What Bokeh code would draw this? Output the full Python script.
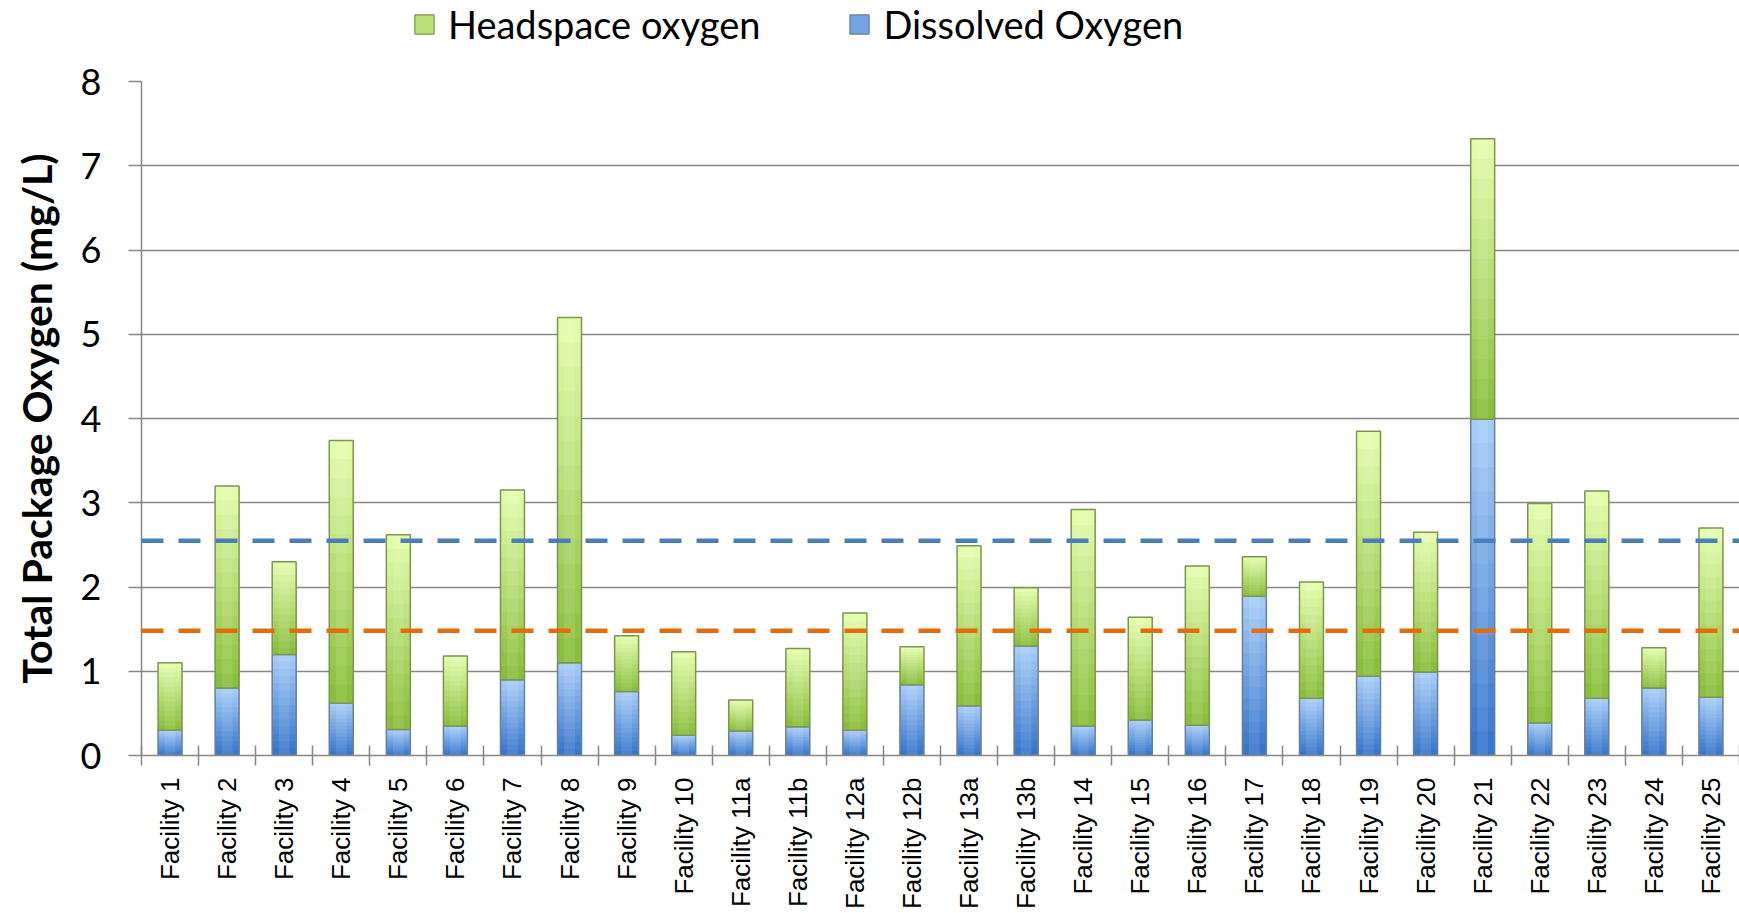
import numpy as np
from bokeh.plotting import figure
from bokeh.layouts import column
from bokeh.models import Range1d, FixedTicker, Span, Legend, LegendItem
from bokeh.embed import file_html
from bokeh.resources import INLINE

# ---------------- data ----------------
facilities = ["Facility 1", "Facility 2", "Facility 3", "Facility 4", "Facility 5",
              "Facility 6", "Facility 7", "Facility 8", "Facility 9", "Facility 10",
              "Facility 11a", "Facility 11b", "Facility 12a", "Facility 12b",
              "Facility 13a", "Facility 13b", "Facility 14", "Facility 15",
              "Facility 16", "Facility 17", "Facility 18", "Facility 19",
              "Facility 20", "Facility 21", "Facility 22", "Facility 23",
              "Facility 24", "Facility 25"]
dissolved_oxygen = [0.30, 0.80, 1.20, 0.62, 0.31, 0.35, 0.90, 1.10, 0.76, 0.24,
                    0.29, 0.34, 0.30, 0.84, 0.59, 1.30, 0.35, 0.42, 0.36, 1.89,
                    0.68, 0.94, 0.99, 3.99, 0.39, 0.68, 0.80, 0.69]
headspace_oxygen = [0.80, 2.40, 1.10, 3.12, 2.31, 0.83, 2.25, 4.10, 0.66, 0.99,
                    0.37, 0.93, 1.39, 0.45, 1.90, 0.69, 2.57, 1.22, 1.89, 0.47,
                    1.38, 2.91, 1.66, 3.33, 2.60, 2.46, 0.48, 2.01]
series_names = ["Headspace oxygen", "Dissolved Oxygen"]
threshold_blue = 2.55
threshold_orange = 1.48
y_ticks = [0, 1, 2, 3, 4, 5, 6, 7, 8]

# ---------------- colours ----------------
GRID = "#878787"
BLUE_TOP, BLUE_BOT, BLUE_LINE = "#a4cbf7", "#3676cc", "#6b7f99"
GREEN_TOP, GREEN_BOT, GREEN_LINE = "#e2fcaa", "#8abf3c", "#7d9455"

# ---------------- main figure ----------------
n = len(facilities)
xc = np.arange(n) + 0.5
BAR_W = 0.42
FRAME_H = 674
TOP_PAD = 30

p = figure(frame_width=1598, frame_height=FRAME_H,
           x_range=Range1d(0, n), y_range=Range1d(0, 8),
           output_backend="svg", toolbar_location=None,
           min_border_left=141, min_border_right=0,
           min_border_top=TOP_PAD, min_border_bottom=0)
p.outline_line_color = None
p.background_fill_color = "white"
p.border_fill_color = "white"
p.ygrid.grid_line_color = GRID
p.ygrid.grid_line_width = 1.5
p.xgrid.grid_line_color = None


def rgb(h):
    h = h.lstrip("#")
    return np.array([int(h[i:i + 2], 16) for i in (0, 2, 4)], dtype=float)


def mix(c1, c2, t):
    c = rgb(c1) * (1 - t) + rgb(c2) * t
    return "#%02x%02x%02x" % tuple(int(round(v)) for v in c)


def gradient_bar(bottom, height, top_col, bot_col, line_col, steps=14):
    bottom = np.asarray(bottom, dtype=float)
    height = np.asarray(height, dtype=float)
    for k in range(steps):
        frac = 1 - k / steps
        col = mix(top_col, bot_col, k / (steps - 1))
        p.vbar(x=xc, bottom=bottom, top=bottom + height * frac, width=BAR_W,
               fill_color=col, line_color=None)
    # soft vertical highlight in the centre
    p.vbar(x=xc, bottom=bottom, top=bottom + height, width=BAR_W * 0.45,
           fill_color="white", fill_alpha=0.10, line_color=None)
    p.vbar(x=xc, bottom=bottom, top=bottom + height, width=BAR_W,
           fill_color=None, line_color=line_col, line_width=1.5)


do = np.array(dissolved_oxygen)
hs = np.array(headspace_oxygen)
gradient_bar(np.zeros(n), do, BLUE_TOP, BLUE_BOT, BLUE_LINE)
gradient_bar(do, hs, GREEN_TOP, GREEN_BOT, GREEN_LINE)

# thresholds
p.add_layout(Span(location=threshold_blue, dimension="width", line_color="#4a7ebb",
                  line_width=4.5, line_dash="22 15"))
p.add_layout(Span(location=threshold_orange, dimension="width", line_color="#e46c0a",
                  line_width=4.5, line_dash="22 15"))

# ---------------- axes ----------------
yax = p.yaxis[0]
yax.ticker = FixedTicker(ticks=y_ticks)
yax.axis_line_color = GRID
yax.axis_line_width = 1.5
yax.major_tick_line_color = GRID
yax.major_tick_line_width = 1.5
yax.major_tick_out = 13
yax.major_tick_in = 0
yax.minor_tick_line_color = None
yax.major_label_text_font = "Lato"
yax.major_label_text_font_size = "36px"
yax.major_label_text_color = "black"
yax.major_label_standoff = 27
yax.axis_label = "Total Package Oxygen (mg/L)"
yax.axis_label_text_font = "Lato"
yax.axis_label_text_font_style = "bold"
yax.axis_label_text_font_size = "41px"
yax.axis_label_text_color = "black"
yax.axis_label_standoff = 17

xax = p.xaxis[0]
xax.ticker = FixedTicker(ticks=list(xc), minor_ticks=list(range(n + 1)))
xax.major_label_overrides = {float(v): name for v, name in zip(xc, facilities)}
xax.major_label_orientation = np.pi / 2
xax.major_label_text_font = "Liberation Sans"
xax.major_label_text_font_size = "26px"
xax.major_label_text_color = "black"
xax.major_label_standoff = 12
xax.major_tick_out = 0
xax.major_tick_in = 0
xax.major_tick_line_color = None
xax.minor_tick_out = 10
xax.minor_tick_in = 10
xax.minor_tick_line_color = GRID
xax.minor_tick_line_width = 1.5
xax.axis_line_color = GRID
xax.axis_line_width = 1.5

# ---------------- legend strip above the plot ----------------
LEG_H = 81 - TOP_PAD
lg = figure(width=1739, height=LEG_H, x_range=Range1d(0, 1), y_range=Range1d(0, 1),
            output_backend="svg", toolbar_location=None,
            min_border_left=141, min_border_right=0, min_border_top=0, min_border_bottom=0)
lg.axis.visible = False
lg.grid.grid_line_color = None
lg.outline_line_color = None
lg.background_fill_color = "white"
lg.border_fill_color = "white"
# legend swatches (their single point lies outside the strip's visible range)
r_green = lg.vbar(x=[-5], top=[-5], width=0.1, fill_color=mix(GREEN_TOP, GREEN_BOT, 0.45),
                  line_color=GREEN_LINE, line_width=1.2)
r_blue = lg.vbar(x=[-5], top=[-5], width=0.1, fill_color=mix(BLUE_TOP, BLUE_BOT, 0.45),
                 line_color=BLUE_LINE, line_width=1.2)
legend = Legend(items=[LegendItem(label=series_names[0], renderers=[r_green]),
                       LegendItem(label=series_names[1], renderers=[r_blue])],
                orientation="horizontal", location=(412 - 141, LEG_H - 47),
                border_line_color=None, background_fill_alpha=0,
                label_text_font="Lato", label_text_font_size="38px",
                label_text_color="black",
                glyph_width=24, glyph_height=24, label_standoff=12,
                spacing=87, padding=0, margin=0)
lg.add_layout(legend)

layout = column(lg, p, spacing=0)
open("out.html", "w").write(file_html(layout, INLINE))
